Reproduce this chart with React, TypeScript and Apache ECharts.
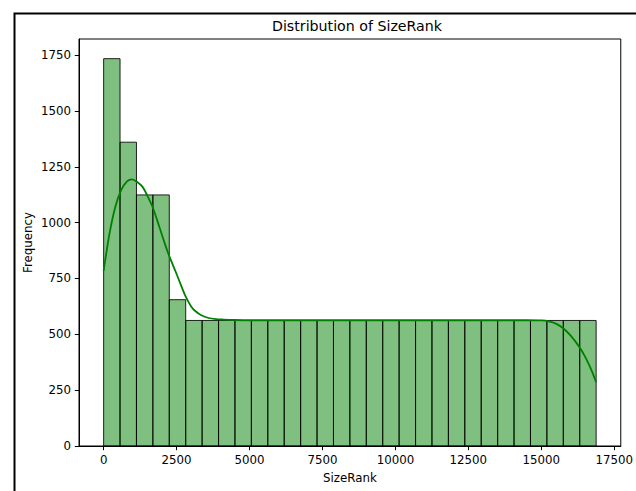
import React, { useEffect, useRef } from "react";
import * as echarts from "echarts";

const binWidth = 562.67;
const counts = [
  1734, 1360, 1124, 1124, 655, 562, 562, 562, 562, 562, 562, 562, 562, 562, 562,
  562, 562, 562, 562, 562, 562, 562, 562, 562, 562, 562, 562, 562, 562, 562,
];
const kdeX = [
  0, 200, 400, 600, 800, 975, 1150, 1335, 1500, 1675, 1900, 2100, 2250, 2470,
  2650, 2810, 3000, 3150, 3350, 3600, 3850, 4100, 4500, 5000, 7500, 10000,
  12500, 14500, 15000, 15250, 15500, 15750, 16000, 16290, 16500, 16700, 16880,
];
const kdeY = [
  784, 950, 1070, 1145, 1185, 1194, 1182, 1160, 1120, 1071, 985, 905, 850, 780,
  720, 670, 625, 603, 585, 573, 568, 566, 564, 563, 563, 563, 563, 563, 562,
  558, 548, 527, 495, 446, 400, 345, 286,
];
const xTicks = [0, 2500, 5000, 7500, 10000, 12500, 15000, 17500];
const yTicks = [0, 250, 500, 750, 1000, 1250, 1500, 1750];

export default function App() {
  const ref = useRef<HTMLDivElement>(null);
  useEffect(() => {
    if (!ref.current) return;
    const chart = echarts.init(ref.current, null, { renderer: "svg" });
    const bars = counts.map((c, i) => [i * binWidth, (i + 1) * binWidth, c]);
    const kde = kdeX.map((x, i) => [x, kdeY[i]]);
    const font = "DejaVu Sans";
    const fmt = (v: number) => String(v);
    chart.setOption({
      animation: false,
      backgroundColor: "#fff",
      title: {
        text: "Distribution of SizeRank",
        left: 352,
        top: 14,
        textAlign: "center",
        textStyle: { fontFamily: font, fontSize: 14.2, fontWeight: "normal", color: "#000" },
      },
      grid: {
        left: 79,
        right: 11,
        top: 39,
        bottom: 45,
        show: true,
        borderColor: "#000",
        borderWidth: 1,
        backgroundColor: "transparent",
      },
      xAxis: {
        type: "value",
        min: -844,
        max: 17724,
        name: "SizeRank",
        nameLocation: "middle",
        nameGap: 26,
        nameMoveOverlap: false,
        nameTextStyle: { fontFamily: font, fontSize: 11.8, color: "#000" },
        axisLine: { show: true, onZero: false, lineStyle: { color: "#000", width: 1 } },
        axisTick: { show: true, length: 4.2, lineStyle: { color: "#000" }, customValues: xTicks },
        axisLabel: { fontFamily: font, fontSize: 11.8, color: "#000", margin: 8, customValues: xTicks, formatter: fmt },
        splitLine: { show: false },
      },
      yAxis: {
        type: "value",
        min: 0,
        max: 1822,
        name: "Frequency",
        nameLocation: "middle",
        nameRotate: 90,
        nameGap: 45,
        nameMoveOverlap: false,
        nameTextStyle: { fontFamily: font, fontSize: 11.8, color: "#000" },
        axisLine: { show: true, onZero: false, lineStyle: { color: "#000", width: 1 } },
        axisTick: { show: true, length: 4.2, lineStyle: { color: "#000" }, customValues: yTicks },
        axisLabel: { fontFamily: font, fontSize: 11.8, color: "#000", margin: 8, customValues: yTicks, formatter: fmt },
        splitLine: { show: false },
      },
      graphic: [
        {
          type: "rect",
          left: 12,
          top: 11,
          shape: { x: 0, y: 0, width: 700, height: 600 },
          style: { fill: "none", stroke: "#000", lineWidth: 2 },
          silent: true,
          z: 100,
        },
      ],
      series: [
        {
          type: "custom",
          data: bars,
          encode: { x: [0, 1], y: 2 },
          renderItem: (params: any, api: any) => {
            const p0 = api.coord([api.value(0), api.value(2)]);
            const p1 = api.coord([api.value(1), 0]);
            return {
              type: "rect",
              shape: { x: p0[0], y: p0[1], width: p1[0] - p0[0], height: p1[1] - p0[1] },
              style: { fill: "rgba(0,128,0,0.5)", stroke: "rgba(0,0,0,0.85)", lineWidth: 1 },
            };
          },
          z: 2,
        },
        {
          type: "line",
          data: kde,
          showSymbol: false,
          smooth: 0.3,
          lineStyle: { color: "#008000", width: 1.8 },
          itemStyle: { color: "#008000" },
          z: 3,
        },
      ],
    });
    return () => chart.dispose();
  }, []);
  return (
    <div
      ref={ref}
      style={{ position: "fixed", left: 0, top: 0, width: 636, height: 491 }}
    />
  );
}
